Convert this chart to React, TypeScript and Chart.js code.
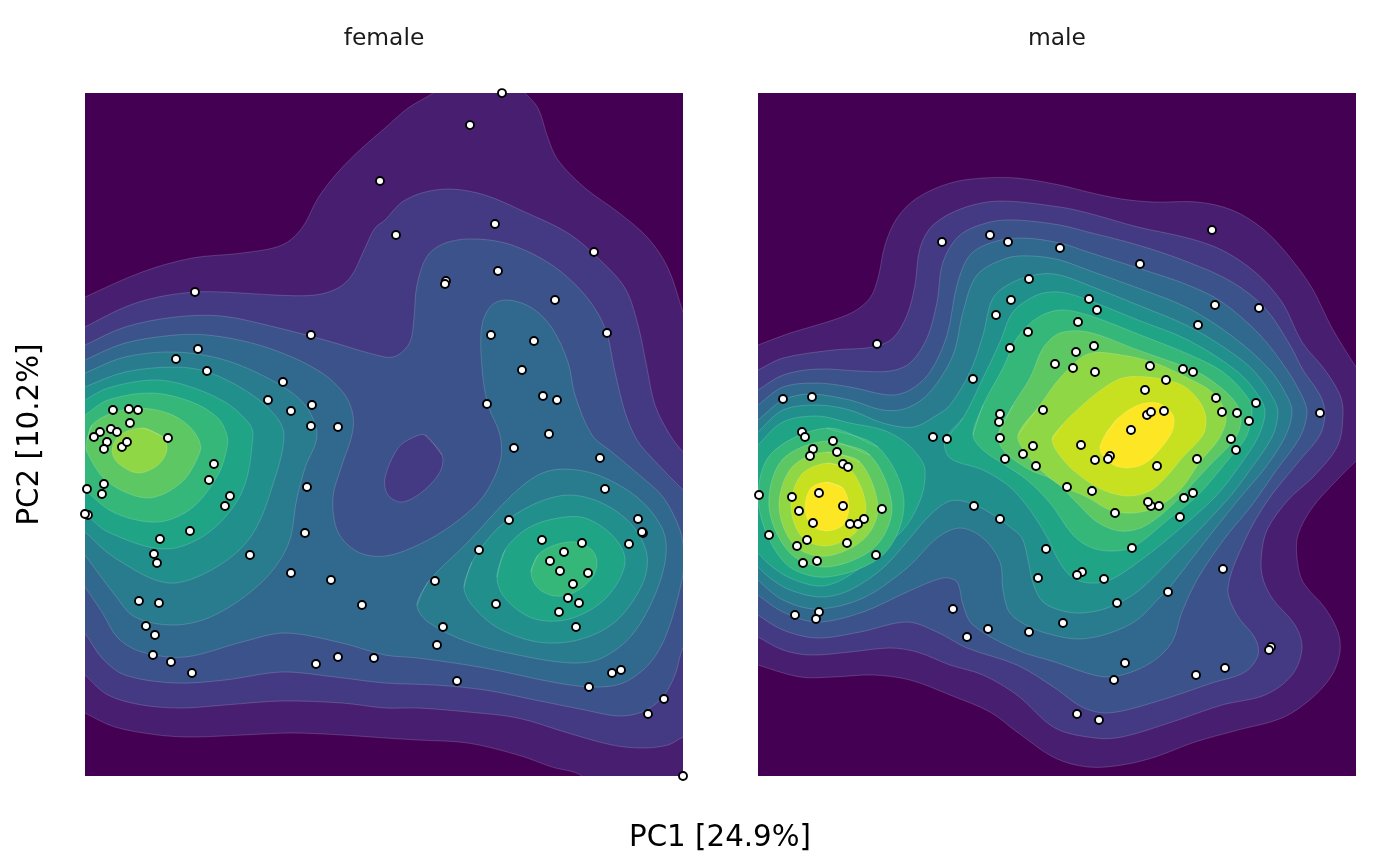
import React, { useEffect, useRef } from "react";
import { Chart, registerables } from "chart.js";

Chart.register(...registerables);

type P = [number, number];

// viridis(13) fill colours, one per density level
const levelColors = ["#440154", "#481F70", "#443A83", "#3B528B", "#31688E", "#287C8E", "#21908C", "#20A486", "#35B779", "#5DC863", "#8FD744", "#C7E020", "#FDE725"];

// Axes are in read-off units of the picture
const femaleXRange: P = [85, 683];
const maleXRange: P = [758, 1356];
const yRange: P = [93, 776];

const femaleBg: P[] = [[60, 70], [710, 70], [710, 800], [60, 800]];
const femaleL1: P[] = [[60, 309], [85, 297], [142, 272], [192, 258], [242, 253], [282, 245], [302, 228], [318, 198], [338, 172], [362, 148], [385, 128], [408, 108], [433, 93], [450, 78], [510, 78], [525, 93], [538, 108], [548, 138], [558, 160], [585, 188], [618, 212], [648, 238], [668, 268], [683, 312], [695, 345], [720, 345], [720, 810], [610, 810], [582, 776], [552, 767], [518, 755], [468, 743], [418, 740], [385, 738], [342, 735], [292, 733], [242, 735], [192, 737], [158, 735], [115, 727], [85, 713], [60, 700]];
const femaleL2: P[] = [[70, 335], [85, 327], [125, 307], [158, 297], [195, 292], [225, 292], [275, 295], [315, 295], [338, 288], [352, 275], [365, 248], [375, 228], [385, 220], [402, 202], [425, 192], [452, 189], [485, 195], [525, 212], [568, 233], [598, 258], [625, 288], [638, 325], [647, 368], [655, 405], [670, 435], [683, 452], [700, 470], [720, 470], [720, 730], [700, 730], [683, 737], [668, 745], [642, 748], [612, 745], [568, 733], [518, 718], [468, 712], [418, 708], [385, 708], [342, 703], [282, 701], [225, 705], [182, 708], [142, 705], [108, 695], [85, 675], [70, 660]];
const femaleL3: P[] = [[70, 352], [85, 345], [125, 327], [175, 317], [222, 316], [275, 327], [325, 340], [385, 357], [398, 355], [410, 342], [414, 318], [417, 285], [428, 255], [448, 242], [478, 239], [512, 245], [552, 265], [585, 295], [605, 328], [615, 372], [625, 412], [637, 440], [652, 458], [683, 490], [700, 505], [710, 505], [710, 620], [700, 625], [683, 648], [675, 675], [662, 698], [642, 712], [618, 716], [585, 710], [535, 700], [485, 690], [435, 685], [385, 683], [335, 677], [282, 672], [225, 680], [175, 683], [125, 675], [102, 658], [85, 633], [70, 615]];
const femaleHole: P[] = [[425, 435], [442, 455], [440, 472], [422, 492], [402, 502], [388, 495], [385, 478], [398, 448], [412, 438]];
const femaleL4: P[] = [[70, 368], [85, 360], [125, 343], [175, 335], [208, 335], [252, 343], [292, 357], [325, 375], [345, 395], [353, 415], [352, 435], [342, 465], [333, 498], [338, 532], [358, 552], [385, 556], [418, 545], [452, 525], [482, 498], [500, 462], [500, 435], [488, 405], [482, 368], [482, 325], [492, 305], [508, 300], [532, 308], [552, 328], [568, 362], [575, 395], [592, 435], [612, 452], [637, 473], [663, 497], [680, 530], [684, 555], [682, 580], [667, 633], [650, 663], [623, 683], [592, 687], [552, 682], [485, 668], [418, 658], [385, 655], [342, 643], [285, 633], [242, 642], [185, 657], [142, 652], [118, 638], [102, 612], [85, 587], [70, 565]];
const femaleL5a: P[] = [[70, 380], [85, 373], [125, 357], [175, 352], [225, 360], [275, 382], [305, 405], [317, 435], [305, 468], [297, 498], [288, 545], [262, 582], [215, 615], [175, 625], [135, 617], [115, 595], [85, 555], [70, 535]];
const femaleL5b: P[] = [[417, 605], [428, 582], [468, 542], [512, 495], [538, 475], [562, 469], [598, 475], [638, 498], [662, 528], [666, 555], [655, 595], [632, 635], [602, 658], [572, 663], [518, 655], [468, 642], [428, 622]];
const femaleL6a: P[] = [[70, 394], [85, 387], [125, 372], [175, 367], [208, 372], [248, 392], [275, 415], [284, 435], [275, 478], [252, 535], [215, 568], [168, 583], [115, 558], [85, 532], [70, 518]];
const femaleL6b: P[] = [[464, 587], [472, 562], [498, 528], [532, 505], [568, 495], [602, 503], [632, 525], [647, 555], [642, 585], [615, 622], [578, 640], [538, 642], [498, 628], [472, 605]];
const femaleL7a: P[] = [[70, 408], [85, 400], [108, 388], [152, 380], [185, 385], [225, 402], [248, 422], [253, 435], [242, 492], [208, 533], [165, 549], [108, 532], [85, 513], [70, 500]];
const femaleL7b: P[] = [[497, 577], [505, 550], [528, 528], [558, 518], [585, 518], [612, 535], [625, 558], [618, 582], [598, 605], [565, 620], [532, 618], [505, 598]];
const femaleL8a: P[] = [[70, 425], [85, 415], [108, 400], [152, 393], [192, 402], [218, 418], [227, 435], [227, 448], [218, 475], [192, 508], [158, 522], [115, 513], [85, 490], [70, 475]];
const femaleL8b: P[] = [[531, 572], [538, 555], [555, 545], [575, 542], [592, 550], [597, 563], [592, 578], [575, 592], [555, 596], [538, 588]];
const femaleL9: P[] = [[87, 440], [92, 425], [112, 413], [138, 408], [168, 413], [188, 425], [199, 440], [200, 452], [182, 482], [148, 498], [108, 482], [87, 452]];
const femaleL10: P[] = [[143, 428], [163, 437], [167, 450], [158, 465], [138, 473], [118, 463], [112, 450], [120, 435]];

const maleBg: P[] = [[730, 70], [1380, 70], [1380, 800], [730, 800]];
const maleL1: P[] = [[745, 350], [758, 345], [790, 333], [827, 322], [853, 312], [870, 298], [878, 278], [885, 245], [897, 218], [917, 198], [950, 183], [983, 178], [1017, 178], [1060, 185], [1088, 192], [1122, 199], [1155, 202], [1198, 202], [1232, 210], [1262, 228], [1288, 255], [1312, 288], [1332, 328], [1356, 367], [1375, 395], [1385, 420], [1375, 445], [1356, 461], [1335, 482], [1312, 508], [1298, 535], [1297, 558], [1303, 582], [1325, 608], [1338, 632], [1340, 652], [1332, 675], [1312, 698], [1282, 718], [1238, 730], [1195, 742], [1155, 757], [1122, 765], [1088, 767], [1055, 758], [1017, 732], [990, 712], [950, 695], [910, 680], [873, 675], [833, 677], [800, 677], [758, 665], [745, 660]];
const maleL2: P[] = [[745, 376], [758, 370], [783, 358], [833, 350], [873, 347], [893, 338], [907, 315], [915, 285], [920, 248], [933, 225], [963, 208], [1000, 201], [1060, 207], [1088, 213], [1138, 227], [1188, 238], [1222, 250], [1255, 272], [1282, 302], [1302, 342], [1325, 370], [1340, 395], [1343, 413], [1338, 445], [1315, 475], [1288, 500], [1268, 528], [1262, 550], [1262, 575], [1272, 598], [1295, 625], [1302, 648], [1292, 675], [1265, 695], [1222, 705], [1172, 722], [1122, 737], [1095, 738], [1055, 728], [1017, 695], [983, 675], [950, 665], [917, 652], [890, 648], [850, 652], [810, 655], [783, 650], [758, 637], [745, 630]];
const maleL3: P[] = [[745, 398], [758, 390], [783, 375], [817, 369], [860, 371], [890, 371], [910, 363], [927, 338], [937, 302], [943, 262], [960, 235], [990, 222], [1017, 220], [1060, 225], [1088, 232], [1138, 245], [1188, 262], [1232, 282], [1265, 308], [1290, 345], [1303, 370], [1320, 395], [1325, 413], [1320, 435], [1300, 460], [1268, 500], [1245, 540], [1228, 588], [1237, 615], [1255, 638], [1258, 655], [1245, 672], [1212, 683], [1155, 702], [1108, 713], [1082, 707], [1055, 688], [1017, 665], [967, 648], [937, 632], [907, 622], [860, 632], [817, 638], [783, 630], [758, 615], [745, 605]];
const maleL4: P[] = [[745, 415], [758, 405], [783, 387], [817, 383], [850, 387], [890, 395], [910, 390], [930, 372], [947, 335], [957, 285], [970, 255], [993, 242], [1023, 238], [1060, 243], [1088, 252], [1138, 268], [1188, 285], [1222, 302], [1260, 335], [1287, 370], [1303, 398], [1307, 413], [1300, 437], [1275, 472], [1252, 505], [1225, 538], [1198, 578], [1182, 612], [1172, 642], [1152, 662], [1122, 675], [1098, 676], [1055, 662], [1017, 650], [973, 625], [963, 605], [957, 582], [943, 578], [907, 592], [863, 612], [817, 622], [783, 612], [758, 595], [745, 585]];
const maleL5: P[] = [[745, 430], [758, 420], [783, 400], [810, 394], [850, 400], [883, 410], [907, 408], [930, 392], [953, 355], [963, 312], [977, 275], [1007, 258], [1033, 256], [1060, 260], [1088, 270], [1138, 288], [1188, 308], [1232, 336], [1270, 370], [1288, 398], [1292, 413], [1285, 437], [1265, 468], [1238, 500], [1200, 548], [1170, 587], [1160, 597], [1137, 620], [1110, 633], [1080, 639], [1053, 635], [1030, 627], [1010, 613], [1003, 590], [1000, 562], [983, 538], [960, 528], [937, 538], [907, 568], [863, 598], [817, 609], [783, 600], [758, 580], [745, 565]];
const maleL6: P[] = [[745, 445], [758, 432], [783, 410], [817, 405], [850, 410], [883, 423], [913, 427], [937, 415], [950, 405], [970, 372], [983, 335], [993, 298], [1013, 282], [1040, 274], [1060, 275], [1088, 285], [1138, 305], [1188, 326], [1228, 350], [1255, 372], [1273, 398], [1278, 413], [1272, 437], [1250, 470], [1227, 500], [1170, 560], [1137, 592], [1107, 608], [1082, 613], [1063, 611], [1043, 602], [1033, 583], [1028, 560], [1022, 538], [1010, 527], [997, 517], [970, 503], [950, 501], [930, 515], [910, 538], [883, 568], [850, 590], [822, 597], [790, 590], [770, 578], [758, 567], [745, 555]];
const maleL7a: P[] = [[745, 460], [758, 445], [783, 422], [817, 416], [850, 423], [883, 430], [905, 442], [920, 458], [925, 470], [922, 495], [907, 525], [883, 548], [850, 575], [822, 586], [790, 578], [770, 565], [758, 553], [745, 540]];
const maleL7b: P[] = [[945, 440], [963, 418], [983, 378], [1000, 342], [1013, 312], [1037, 295], [1060, 292], [1088, 300], [1138, 320], [1188, 340], [1238, 372], [1260, 398], [1265, 413], [1258, 437], [1240, 465], [1215, 497], [1170, 537], [1137, 563], [1110, 580], [1090, 583], [1073, 578], [1060, 563], [1047, 537], [1030, 510], [1010, 487], [983, 470], [950, 458]];
const maleL8a: P[] = [[827, 428], [878, 447], [904, 500], [885, 553], [827, 577], [785, 563], [759, 507], [770, 455]];
const maleL8b: P[] = [[973, 435], [983, 405], [1003, 368], [1017, 338], [1037, 318], [1060, 310], [1088, 315], [1138, 334], [1188, 354], [1223, 372], [1248, 398], [1252, 413], [1246, 437], [1228, 460], [1198, 495], [1170, 518], [1133, 547], [1110, 551], [1090, 547], [1073, 535], [1050, 503], [1027, 480], [1005, 465], [983, 450]];
const maleL9a: P[] = [[827, 441], [870, 455], [892, 507], [875, 547], [827, 567], [790, 553], [769, 507], [782, 460]];
const maleL9b: P[] = [[998, 435], [1013, 405], [1030, 378], [1043, 348], [1060, 333], [1088, 332], [1138, 350], [1188, 368], [1208, 378], [1232, 398], [1241, 415], [1236, 437], [1210, 465], [1170, 507], [1143, 527], [1120, 531], [1097, 522], [1077, 503], [1053, 480], [1030, 470], [1005, 452]];
const maleL10a: P[] = [[827, 452], [860, 462], [878, 507], [865, 538], [827, 556], [795, 546], [779, 507], [792, 467]];
const maleL10b: P[] = [[1018, 435], [1040, 405], [1060, 378], [1088, 354], [1122, 355], [1155, 363], [1188, 378], [1213, 393], [1226, 415], [1220, 437], [1200, 462], [1180, 490], [1157, 507], [1133, 513], [1110, 510], [1087, 497], [1060, 485], [1043, 472], [1025, 452]];
const maleL11a: P[] = [[827, 463], [851, 470], [866, 507], [855, 533], [827, 546], [802, 537], [791, 507], [801, 475]];
const maleL11b: P[] = [[1052, 440], [1062, 425], [1075, 412], [1098, 392], [1122, 378], [1148, 377], [1182, 385], [1200, 402], [1206, 418], [1203, 435], [1182, 458], [1168, 475], [1150, 491], [1127, 496], [1103, 490], [1083, 478], [1065, 462]];
const maleL12a: P[] = [[827, 482], [843, 488], [849, 507], [843, 525], [827, 531], [811, 525], [805, 507], [811, 488]];
const maleL12b: P[] = [[1105, 435], [1118, 418], [1138, 405], [1158, 403], [1173, 415], [1172, 432], [1155, 455], [1142, 465], [1125, 468], [1110, 463], [1100, 450]];

// Bottom-to-top painting order: [level, path]
const femaleContours: [number, P[]][] = [[0, femaleBg], [1, femaleL1], [2, femaleL2], [3, femaleL3], [4, femaleL4], [2, femaleHole], [5, femaleL5a], [5, femaleL5b], [6, femaleL6a], [6, femaleL6b], [7, femaleL7a], [7, femaleL7b], [8, femaleL8a], [8, femaleL8b], [9, femaleL9], [10, femaleL10]];
const maleContours: [number, P[]][] = [[0, maleBg], [1, maleL1], [2, maleL2], [3, maleL3], [4, maleL4], [5, maleL5], [6, maleL6], [7, maleL7a], [7, maleL7b], [8, maleL8a], [8, maleL8b], [9, maleL9a], [9, maleL9b], [10, maleL10a], [10, maleL10b], [11, maleL11a], [11, maleL11b], [12, maleL12a], [12, maleL12b]];

const femalePoints: P[] = [[380, 181], [195, 292], [311, 335], [198, 349], [176, 359], [207, 371], [283, 382], [268, 400], [291, 411], [312, 405], [311, 426], [338, 427], [113, 410], [129, 409], [138, 410], [130, 423], [111, 429], [100, 432], [117, 432], [94, 437], [107, 442], [104, 449], [122, 447], [127, 442], [168, 438], [214, 464], [209, 480], [230, 496], [225, 506], [104, 484], [102, 494], [87, 489], [88, 515], [85, 514], [190, 531], [160, 539], [154, 554], [157, 563], [250, 555], [307, 487], [305, 533], [291, 573], [331, 580], [362, 605], [139, 601], [159, 603], [146, 626], [155, 635], [153, 655], [171, 662], [192, 673], [316, 664], [338, 657], [374, 658], [502, 93], [470, 125], [396, 235], [495, 224], [594, 252], [498, 271], [446, 281], [445, 284], [555, 300], [607, 333], [491, 335], [534, 341], [522, 370], [543, 396], [557, 400], [487, 404], [549, 434], [514, 448], [600, 458], [605, 489], [509, 520], [638, 519], [643, 533], [642, 532], [629, 544], [479, 550], [542, 540], [582, 543], [564, 552], [550, 561], [560, 571], [588, 573], [573, 584], [435, 581], [496, 604], [568, 598], [579, 603], [559, 612], [576, 627], [443, 627], [437, 645], [457, 681], [612, 673], [621, 670], [589, 687], [664, 699], [648, 714], [683, 776]];
const malePoints: P[] = [[942, 242], [990, 235], [1008, 242], [1060, 248], [1029, 279], [1011, 300], [996, 315], [1028, 332], [1010, 348], [1055, 364], [877, 344], [973, 379], [783, 399], [812, 397], [1000, 414], [999, 422], [1043, 410], [802, 432], [805, 437], [933, 437], [947, 439], [1000, 438], [1212, 230], [1140, 264], [1089, 299], [1097, 310], [1078, 322], [1215, 305], [1259, 308], [1198, 325], [1094, 346], [1076, 352], [1073, 368], [1095, 372], [1150, 366], [1183, 369], [1193, 372], [1166, 380], [1145, 390], [1320, 413], [1216, 398], [1256, 403], [1222, 412], [1237, 413], [1249, 421], [1164, 411], [1147, 415], [1151, 412], [1131, 430], [1231, 439], [833, 441], [813, 449], [810, 456], [837, 452], [843, 464], [848, 467], [759, 495], [792, 497], [819, 493], [843, 506], [882, 509], [799, 511], [864, 519], [858, 524], [850, 524], [813, 523], [769, 535], [807, 540], [797, 546], [847, 543], [876, 555], [803, 563], [817, 561], [795, 615], [819, 612], [816, 619], [953, 609], [967, 637], [988, 629], [1029, 632], [974, 506], [1000, 519], [1046, 549], [1038, 578], [1005, 459], [1023, 454], [1033, 446], [1036, 466], [1081, 445], [1095, 460], [1110, 456], [1108, 459], [1157, 466], [1197, 459], [1236, 450], [1067, 487], [1092, 491], [1115, 513], [1151, 506], [1148, 502], [1159, 506], [1184, 498], [1193, 493], [1180, 517], [1132, 548], [1082, 572], [1077, 575], [1104, 579], [1223, 569], [1168, 592], [1117, 603], [1063, 623], [1271, 647], [1269, 650], [1225, 668], [1196, 675], [1125, 663], [1114, 680], [1077, 714], [1099, 720]];

const facetLabels = ["female", "male"];
const xAxisLabel = "PC1 [24.9%]";
const yAxisLabel = "PC2 [10.2%]";

const FONT = "'DejaVu Sans'";

function buildDatasets(contours: [number, P[]][], points: P[]) {
  const toXY = (p: P) => ({ x: p[0], y: p[1] });
  const fills = contours
    .slice()
    .reverse()
    .map(([level, path]) => ({
      type: "scatter" as const,
      // the path wraps past its start so that the spline stays smooth at the join
      data: (level === 0 ? [...path, path[0]] : [...path, path[0], path[1]]).map(toXY),
      showLine: true,
      fill: "shape",
      backgroundColor: levelColors[level],
      borderColor: level === 0 ? levelColors[0] : "rgba(255,255,255,0.32)",
      borderWidth: level === 0 ? 0 : 0.5,
      tension: level === 0 ? 0 : 0.33,
      pointRadius: 0,
      pointHoverRadius: 0,
    }));
  const dots = {
    type: "scatter" as const,
    data: points.map(toXY),
    showLine: false,
    clip: false as const,
    pointRadius: 4,
    pointHoverRadius: 4,
    pointBorderWidth: 1.9,
    pointBackgroundColor: "#ffffff",
    pointBorderColor: "#000000",
  };
  return [dots, ...fills];
}

function makeChart(canvas: HTMLCanvasElement, facet: string, contours: [number, P[]][], points: P[], xRange: P, left: number, right: number, withYTitle: boolean) {
  return new Chart(canvas, {
    type: "scatter",
    data: { datasets: buildDatasets(contours, points) as any },
    options: {
      responsive: false,
      animation: false,
      devicePixelRatio: 1,
      events: [],
      layout: { padding: { left, right, top: 0, bottom: 90 } },
      elements: { line: { capBezierPoints: false } },
      plugins: {
        legend: { display: false },
        tooltip: { enabled: false },
        title: {
          display: true,
          text: facet,
          fullSize: false,
          color: "#1a1a1a",
          font: { family: FONT, size: 23.4, weight: "normal", lineHeight: 1.2 },
          padding: { top: 25, bottom: 40 },
        },
      },
      scales: {
        x: { type: "linear", display: false, min: xRange[0], max: xRange[1] },
        y: {
          type: "linear",
          reverse: true,
          min: yRange[0],
          max: yRange[1],
          display: withYTitle,
          grid: { display: false, drawTicks: false },
          border: { display: false },
          ticks: { display: false },
          title: {
            display: withYTitle,
            text: yAxisLabel,
            color: "#000000",
            font: { family: FONT, size: 29.3, weight: "normal", lineHeight: 1.2 },
            padding: { top: 13, bottom: 36.8 },
          },
        },
      },
    } as any,
  });
}

export default function App() {
  const femaleRef = useRef<HTMLCanvasElement>(null);
  const maleRef = useRef<HTMLCanvasElement>(null);

  useEffect(() => {
    const a = makeChart(femaleRef.current!, facetLabels[0], femaleContours, femalePoints, femaleXRange, 0, 37, true);
    const b = makeChart(maleRef.current!, facetLabels[1], maleContours, malePoints, maleXRange, 38, 44, false);
    return () => {
      a.destroy();
      b.destroy();
    };
  }, []);

  return (
    <div style={{ position: "absolute", left: 0, top: 0, width: 1400, height: 866, overflow: "hidden", background: "#fff" }}>
      <canvas ref={femaleRef} width={720} height={866} style={{ position: "absolute", left: 0, top: 0 }} />
      <canvas ref={maleRef} width={680} height={866} style={{ position: "absolute", left: 720, top: 0 }} />
      <div style={{ position: "absolute", left: 420, width: 600, top: 816, lineHeight: "40px", textAlign: "center", fontFamily: FONT, fontSize: 29.3, color: "#000" }}>{xAxisLabel}</div>
    </div>
  );
}
